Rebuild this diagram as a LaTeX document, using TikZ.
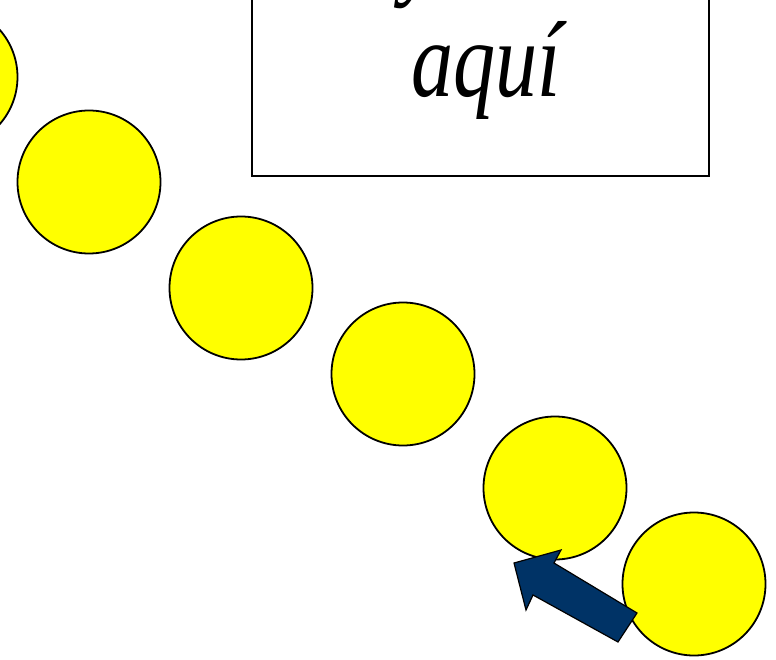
\documentclass[tikz,border=0pt]{standalone}
\usepackage{fontspec}
\setmainfont{Liberation Serif}
\usepackage{tikz}
\usetikzlibrary{positioning,calc}
\definecolor{BallYellow}{RGB}{255,255,0}
\definecolor{PushBlue}{RGB}{0,51,102}
\tikzset{
	ball/.style={circle,draw=black,fill=BallYellow,line width=1.8pt,minimum size=143pt,inner sep=0pt},
	label box/.style={draw=black,line width=1.8pt,fill=white},
	big text/.style={anchor=base,font=\fontsize{108}{120}\selectfont\itshape},
	push/.style={draw=black,fill=PushBlue,line width=1.2pt,line join=miter},
}

\begin{document}
\begin{tikzpicture}[x=1pt,y=-1pt]
			\useasboundingbox (0,0) rectangle (776,660);
			\clip (0,0) rectangle (776,660);
			\coordinate (p0) at (-54,77);
			\coordinate (p1) at (89,182);
			\coordinate (p2) at (241,288);
			\coordinate (p3) at (403,374);
			\coordinate (p4) at (555,488);
			\coordinate (p5) at (694,584);
			\foreach \p in {0,...,5}
			\node[ball] (b\p) at (p\p) {};
			\draw[label box] (252,-40) rectangle (709,176);
			\node[big text] (top) at (420,-14) {\scalebox{0.78}[1]{y}};
			\node[big text] (aqui) at (486,97) {\scalebox{0.78}[1]{aquí}};
			\draw[push] (514,563) -- (561,550) -- (554,563) -- (637,613) -- (618,642) -- (533,595) -- (526,610) -- cycle;
		\end{tikzpicture}
\end{document}
